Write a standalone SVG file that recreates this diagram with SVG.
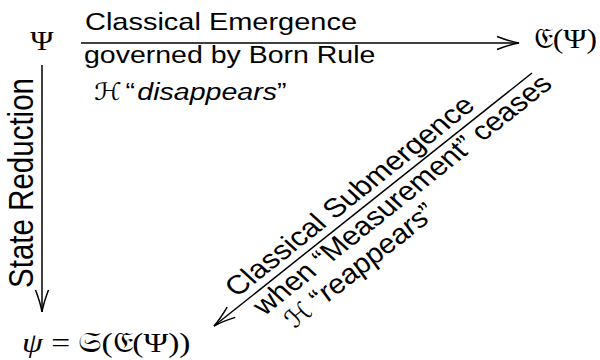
<svg xmlns="http://www.w3.org/2000/svg" width="600" height="360" viewBox="0 0 600 360">
<defs>
<style>
.lbl{font-family:"Liberation Sans",Arial,Helvetica,sans-serif;fill:#000}
.math{font-family:"Liberation Serif","DejaVu Serif","DejaVu Sans",serif;fill:#000}
.cal{font-family:"DejaVu Serif","DejaVu Sans",serif;font-style:italic;font-size:24px}
.it{font-style:italic}
.conn{stroke:#000;stroke-width:1.5;fill:none;marker-end:url(#ah)}
</style>
<marker id="ah" markerUnits="userSpaceOnUse" orient="auto" refX="0" refY="0" markerWidth="1" markerHeight="1" overflow="visible">
<path d="M-22,-6.5 Q-9,-1.5 0,0 Q-9,1.5 -22,6.5" fill="none" stroke="#000" stroke-width="1.5"/>
</marker>
</defs>
<rect width="600" height="360" fill="#fff"/>

<g id="connectors">
<line id="edge-emergence" class="conn" x1="81" y1="43" x2="519" y2="43"/>
<line id="edge-reduction" class="conn" x1="42" y1="65" x2="42" y2="312"/>
<line id="edge-submergence" class="conn" x1="532" y1="73" x2="214" y2="326"/>
</g>

<g id="node-Psi">
<text class="math" transform="translate(42,50) scale(1.17,1)" font-size="27" text-anchor="middle">Ψ</text>
</g>
<g id="node-E-Psi">
<text class="math" transform="translate(534,48) scale(1.17,1)" font-size="28" textLength="54" lengthAdjust="spacingAndGlyphs">𝔈(Ψ)</text>
</g>
<g id="node-psi">
<text class="math" transform="translate(22,352) scale(1.17,1)" font-size="28" textLength="144" lengthAdjust="spacingAndGlyphs"><tspan class="it">ψ</tspan> = 𝔖(𝔈(Ψ))</text>
</g>

<g id="label-emergence">
<text class="lbl" transform="translate(85,30) scale(1.17,1)" font-size="24.4" textLength="232.5" lengthAdjust="spacingAndGlyphs">Classical Emergence</text>
<text class="lbl" transform="translate(84,63) scale(1.17,1)" font-size="24.4" textLength="249" lengthAdjust="spacingAndGlyphs">governed by Born Rule</text>
<text class="lbl" transform="translate(94,100) scale(1.17,1)" font-size="24.4"><tspan class="cal" x="0">ℋ</tspan><tspan x="27">“</tspan><tspan class="it" x="37">disappears</tspan>”</text>
</g>

<g id="label-reduction">
<text class="lbl" transform="translate(33,288) rotate(-90) scale(1,1.17)" font-size="29.5" textLength="210" lengthAdjust="spacingAndGlyphs">State Reduction</text>
</g>

<g id="label-submergence" transform="translate(532,73) scale(1.17,1) rotate(-43)">
<text class="lbl" x="-338" y="-7.5" font-size="26.5" textLength="280" lengthAdjust="spacingAndGlyphs">Classical Submergence</text>
<text class="lbl" x="-333" y="22" font-size="26.5" textLength="338" lengthAdjust="spacingAndGlyphs">when “Measurement” ceases</text>
<text class="lbl" x="-323" y="49" font-size="26.5" textLength="168" lengthAdjust="spacingAndGlyphs"><tspan class="cal">ℋ</tspan> “<tspan class="it">reappears</tspan>”</text>
</g>
</svg>
